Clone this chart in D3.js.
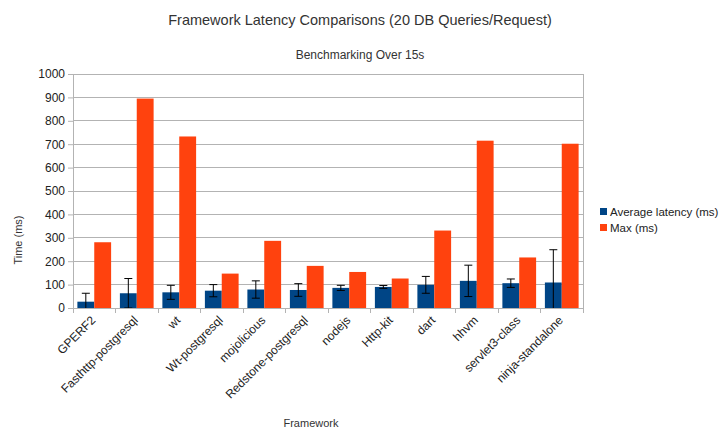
<!DOCTYPE html>
<html><head><meta charset="utf-8">
<script src="https://cdn.jsdelivr.net/npm/d3@7"></script>
<style>body{margin:0;background:#fff}svg{font-family:"Liberation Sans",Arial,sans-serif}</style>
</head><body><svg id="c" width="719" height="430"></svg>
<script>
const categories = ["GPERF2","Fasthttp-postgresql","wt","Wt-postgresql","mojolicious","Redstone-postgresql","nodejs","Http-kit","dart","hhvm","servlet3-class","ninja-standalone"];
const avgLatency = [27, 63, 67, 74, 79, 77, 86, 90, 99, 116, 106, 109];
const avgError   = [36, 63, 30, 26, 37, 27, 11, 6, 36, 67, 18, 140];
const maxLatency = [281, 895, 733, 147, 287, 180, 154, 126, 331, 715, 216, 702];
const seriesNames = ["Average latency (ms)", "Max (ms)"];
const colors = ["#004586", "#ff420e"];
const yTicks = [0,100,200,300,400,500,600,700,800,900,1000];

const svg = d3.select("#c");
const m = {l:73, r:583, t:74, b:308};
const x = d3.scaleBand().domain(categories).range([m.l, m.r]);
const y = d3.scaleLinear().domain([0,1000]).range([m.b, m.t]);
const inner = d3.scaleBand().domain([0,1]).range([0, x.bandwidth()]).paddingOuter(0.26).paddingInner(0);

// titles
svg.append("text").attr("x",360).attr("y",25).attr("text-anchor","middle").attr("font-size",14.5).attr("fill","#333").text("Framework Latency Comparisons (20 DB Queries/Request)");
svg.append("text").attr("x",360).attr("y",59).attr("text-anchor","middle").attr("font-size",12).attr("fill","#333").text("Benchmarking Over 15s");

// grid
svg.append("g").selectAll("line").data(yTicks).join("line")
  .attr("x1",m.l).attr("x2",m.r).attr("y1",d=>y(d)).attr("y2",d=>y(d))
  .attr("stroke","#b3b3b3").attr("stroke-width",1).attr("shape-rendering","crispEdges");
svg.append("line").attr("x1",m.r).attr("x2",m.r).attr("y1",m.t).attr("y2",m.b).attr("stroke","#b3b3b3").attr("shape-rendering","crispEdges");

// bars
const g = svg.append("g");
categories.forEach((c,i)=>{
  [avgLatency[i], maxLatency[i]].forEach((v,k)=>{
    g.append("rect").attr("x",x(c)+inner(k)).attr("width",inner.bandwidth())
      .attr("y",y(v)).attr("height",y(0)-y(v)).attr("fill",colors[k]);
  });
});

// error bars
categories.forEach((c,i)=>{
  const cx = x(c)+inner(0)+inner.bandwidth()/2;
  const hi = avgLatency[i]+avgError[i], lo = Math.max(0, avgLatency[i]-avgError[i]);
  g.append("line").attr("x1",cx).attr("x2",cx).attr("y1",y(hi)).attr("y2",y(lo)).attr("stroke","#000").attr("stroke-width",1);
  g.append("line").attr("x1",cx-4).attr("x2",cx+4).attr("y1",y(hi)).attr("y2",y(hi)).attr("stroke","#000");
  if (avgLatency[i]-avgError[i] >= -1)
    g.append("line").attr("x1",cx-4).attr("x2",cx+4).attr("y1",y(lo)).attr("y2",y(lo)).attr("stroke","#000");
});

// y axis
const ya = svg.append("g").attr("transform",`translate(${m.l},0)`)
  .call(d3.axisLeft(y).tickValues(yTicks).tickFormat(d3.format("d")).tickSize(5).tickPadding(3).tickSizeOuter(0));
ya.select(".domain").attr("stroke","#b3b3b3");
ya.selectAll(".tick line").attr("stroke","#b3b3b3");
ya.selectAll("text").attr("font-size",12).attr("fill","#222").attr("font-family","Liberation Sans, Arial, sans-serif");

// x axis
const xa = svg.append("g").attr("transform",`translate(0,${m.b})`);
xa.append("line").attr("x1",m.l).attr("x2",m.r).attr("stroke","#b3b3b3").attr("shape-rendering","crispEdges");
const bounds = categories.map(c=>x(c)).concat([m.r]);
xa.selectAll("line.t").data(bounds).join("line").attr("class","t")
  .attr("x1",d=>d).attr("x2",d=>d).attr("y1",0).attr("y2",5).attr("stroke","#b3b3b3").attr("shape-rendering","crispEdges");
xa.selectAll("text").data(categories).join("text")
  .attr("transform",d=>`translate(${x(d)+x.bandwidth()/2-1},10) rotate(-45)`)
  .attr("text-anchor","end").attr("dy","0.35em").attr("font-size",12).attr("fill","#222").text(d=>d);

// axis titles
svg.append("text").attr("transform","translate(22,240) rotate(-90)").attr("text-anchor","middle").attr("font-size",11).attr("fill","#333").text("Time (ms)");
svg.append("text").attr("x",311).attr("y",427).attr("text-anchor","middle").attr("font-size",11).attr("fill","#333").text("Framework");

// legend
const lg = svg.append("g");
seriesNames.forEach((n,k)=>{
  lg.append("rect").attr("x",600).attr("y",208+k*16).attr("width",7).attr("height",7).attr("fill",colors[k]);
  lg.append("text").attr("x",610).attr("y",215.5+k*16).attr("font-size",11.5).attr("fill","#222").text(n);
});
</script></body></html>
